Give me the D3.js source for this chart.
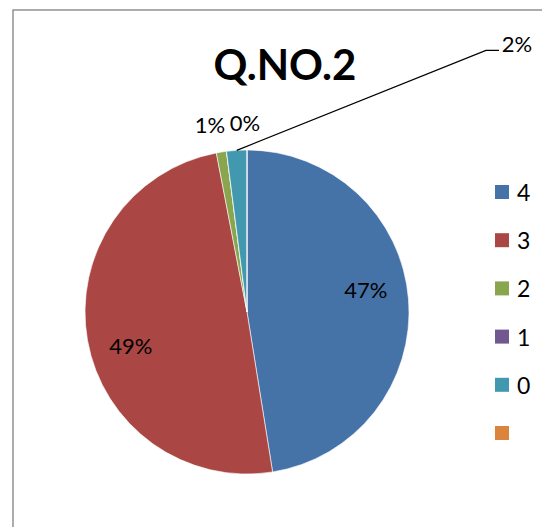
<!DOCTYPE html>
<html>
<head>
<meta charset="utf-8">
<script src="https://cdn.jsdelivr.net/npm/d3@7"></script>
<style>
  body { margin: 0; background: #fff; }
  text { font-family: Lato, "Open Sans", sans-serif; fill: #000; }
</style>
</head>
<body>
<div id="chart"></div>
<script>
// data (counts that round to the shown percentages)
const categories = ["4", "3", "2", "1", "0", ""];
const counts = [47, 49, 1, 0, 2, 0];
const colors = ["#4572A7", "#AA4643", "#89A54E", "#71588F", "#4198AF", "#DB843D"];
const title = "Q.NO.2";

const W = 542, H = 527;
const cx = 247, cy = 312, radius = 162;

const svg = d3.select('#chart').append('svg').attr('width', W).attr('height', H);

// chart area frame
svg.append('rect')
    .attr('x', 13).attr('y', 10)
    .attr('width', 700).attr('height', 700)
    .attr('fill', '#fff')
    .attr('stroke', '#8a8a8a')
    .attr('stroke-width', 1.4);

svg.append('text')
    .attr('x', 285).attr('y', 64)
    .attr('text-anchor', 'middle')
    .attr('dominant-baseline', 'central')
    .style('font-size', '42px')
    .style('font-weight', 'bold')
    .text(title);

const total = d3.sum(counts);
const pct = d => Math.round(d / total * 100) + '%';

const pie = d3.pie().sort(null).value(d => d);
const arcs = pie(counts);
const arc = d3.arc().innerRadius(0).outerRadius(radius);

const g = svg.append('g').attr('transform', `translate(${cx}, ${cy})`);

g.selectAll('path')
    .data(arcs)
    .enter()
    .append('path')
    .attr('d', arc)
    .attr('fill', (d, i) => colors[i])
    .attr('stroke', '#fff')
    .attr('stroke-width', 0.6);

// labels inside big slices, outside for small ones (Excel best-fit layout)
const insideArc = d3.arc().innerRadius(121).outerRadius(121);
const outsideArc = d3.arc().innerRadius(190).outerRadius(190);
const shift = -0.11;
// per-label nudges for the outside labels
const nudge = [null, null, [-7, 0], [22, -1], [282, -79], null];

arcs.forEach((d, i) => {
    if (i === 5) return;
    let pos;
    if (nudge[i] === null) {
        pos = insideArc.centroid({startAngle: d.startAngle + shift, endAngle: d.endAngle + shift});
    } else {
        const p = outsideArc.centroid(d);
        pos = [p[0] + nudge[i][0], p[1] + nudge[i][1]];
    }
    if (i === 4) {
        // leader line for the dragged label
        const mid = (d.startAngle + d.endAngle) / 2;
        const start = [radius * Math.sin(mid), -radius * Math.cos(mid)];
        g.append('polyline')
            .attr('points', [start, [pos[0] - 31, pos[1] + 7], [pos[0] - 18, pos[1] + 7]].map(p => p.join(',')).join(' '))
            .attr('fill', 'none')
            .attr('stroke', '#000')
            .attr('stroke-width', 1.3);
    }
    g.append('text')
        .attr('x', pos[0]).attr('y', pos[1])
        .attr('text-anchor', 'middle')
        .attr('dominant-baseline', 'central')
        .style('font-size', '22px')
        .text(pct(d.data));
});

// legend
const legend = svg.append('g').attr('transform', 'translate(495, 192)');
legend.selectAll('rect')
    .data(categories)
    .enter()
    .append('rect')
    .attr('x', 0)
    .attr('y', (d, i) => i * 48.2 - 7)
    .attr('width', 14)
    .attr('height', 14)
    .attr('fill', (d, i) => colors[i]);

legend.selectAll('text')
    .data(categories)
    .enter()
    .append('text')
    .attr('x', 22)
    .attr('y', (d, i) => i * 48.2)
    .attr('dominant-baseline', 'central')
    .style('font-size', '23px')
    .text(d => d);
</script>
</body>
</html>
